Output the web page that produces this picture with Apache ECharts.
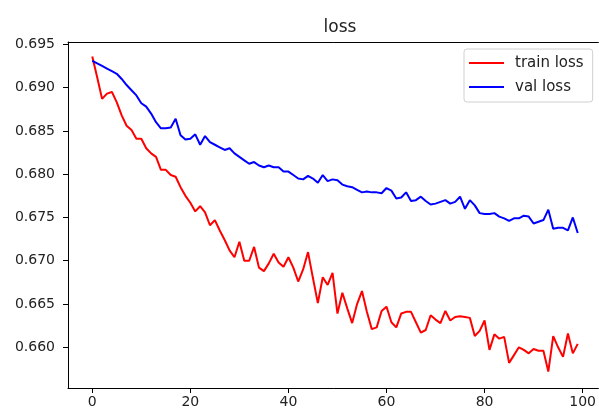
<!DOCTYPE html>
<html>
<head>
<meta charset="utf-8">
<script src="https://cdn.jsdelivr.net/npm/echarts@6/dist/echarts.min.js"></script>
<style>
  html, body { margin: 0; padding: 0; background: #fff; }
  #chart { width: 599px; height: 412px; }
</style>
</head>
<body>
<div id="chart"></div>
<script>
// epoch values
var trainLoss = [
    0.6936, 0.6912, 0.6887, 0.6893, 0.6895, 0.6883, 0.6868, 0.6856, 0.6851, 0.6841,
    0.6841, 0.6830, 0.6824, 0.6820, 0.6805, 0.6805, 0.6799, 0.6797, 0.6785, 0.6775,
    0.6767, 0.6757, 0.6763, 0.6756, 0.6741, 0.6747, 0.6735, 0.6724, 0.6712, 0.6704,
    0.6722, 0.6700, 0.6700, 0.6716, 0.6692, 0.6688, 0.6697, 0.6708, 0.6698, 0.6693,
    0.6704, 0.6692, 0.6676, 0.6690, 0.6710, 0.6680, 0.6651, 0.6681, 0.6672, 0.6686,
    0.6639, 0.6663, 0.6645, 0.6628, 0.6650, 0.6665, 0.6641, 0.6621, 0.6623, 0.6642,
    0.6647, 0.6629, 0.6623, 0.6639, 0.6641, 0.6641, 0.6629, 0.6617, 0.6620, 0.6637,
    0.6632, 0.6628, 0.6642, 0.6631, 0.6635, 0.6636, 0.6635, 0.6634, 0.6613, 0.6619,
    0.6631, 0.6597, 0.6615, 0.6610, 0.6612, 0.6582, 0.6591, 0.6600, 0.6597, 0.6593,
    0.6598, 0.6596, 0.6596, 0.6572, 0.6613, 0.6600, 0.6589, 0.6616, 0.6593, 0.6604
];
var valLoss = [
    0.6931, 0.6928, 0.6925, 0.6922, 0.6919, 0.6916, 0.6910, 0.6903, 0.6897, 0.6891,
    0.6882, 0.6878, 0.6870, 0.6860, 0.6853, 0.6853, 0.6854, 0.6864, 0.6845, 0.6840,
    0.6841, 0.6846, 0.6834, 0.6844, 0.6837, 0.6834, 0.6831, 0.6828, 0.6830, 0.6824,
    0.6820, 0.6816, 0.6812, 0.6814, 0.6810, 0.6808, 0.6810, 0.6808, 0.6808, 0.6803,
    0.6803, 0.6799, 0.6795, 0.6794, 0.6798, 0.6795, 0.6790, 0.6799, 0.6792, 0.6794,
    0.6793, 0.6788, 0.6786, 0.6785, 0.6782, 0.6779, 0.6780, 0.6779, 0.6779, 0.6778,
    0.6784, 0.6781, 0.6772, 0.6773, 0.6779, 0.6769, 0.6770, 0.6774, 0.6769, 0.6765,
    0.6766, 0.6768, 0.6770, 0.6766, 0.6768, 0.6774, 0.6760, 0.6770, 0.6764, 0.6755,
    0.6754, 0.6754, 0.6755, 0.6751, 0.6749, 0.6746, 0.6749, 0.6749, 0.6752, 0.6751,
    0.6743, 0.6745, 0.6747, 0.6759, 0.6737, 0.6738, 0.6738, 0.6735, 0.6750, 0.6732
];
var xTicks = [0, 20, 40, 60, 80, 100];
var yTicks = [0.660, 0.665, 0.670, 0.675, 0.680, 0.685, 0.690, 0.695];

function pairs(values) {
    var out = [];
    for (var i = 0; i < values.length; i++) {
        out.push([i, values[i]]);
    }
    return out;
}

var font = 'DejaVu Sans';
var myChart = echarts.init(document.getElementById('chart'), null, { renderer: 'canvas' });
var option = {
    animation: false,
    backgroundColor: '#fff',
    title: {
        text: 'loss',
        left: 335,
        textAlign: 'center',
        top: 14,
        textStyle: { fontFamily: font, fontSize: 17, fontWeight: 'normal', color: '#222' }
    },
    legend: {
        data: ['train loss', 'val loss'],
        orient: 'vertical',
        left: 464,
        top: 49,
        padding: [6, 9, 7, 4],
        itemGap: 8,
        itemWidth: 35,
        itemHeight: 14,
        itemStyle: { opacity: 0 },   // line only, no marker
        backgroundColor: 'rgba(255,255,255,0.8)',
        borderColor: '#d0d0d0',
        borderWidth: 1,
        borderRadius: 3,
        textStyle: { fontFamily: font, fontSize: 15, color: '#222', padding: [0, 0, 0, 6], lineHeight: 16 }
    },
    // the right spine falls just outside the picture, so only left/bottom/top are drawn
    grid: {
        left: 68,
        right: 0,
        top: 42,
        bottom: 24,
        containLabel: false
    },
    xAxis: [
        {
            type: 'value',
            min: -4.95,
            max: 103.2,
            splitLine: { show: false },
            axisLine: { show: true, onZero: false, lineStyle: { color: '#000', width: 1 } },
            axisTick: { show: true, length: 5, lineStyle: { color: '#000' }, customValues: xTicks },
            axisLabel: {
                margin: 7, fontFamily: font, fontSize: 14, color: '#222',
                customValues: xTicks,
                formatter: function (v) { return String(v); }
            }
        },
        {
            type: 'value',
            position: 'top',
            min: -4.95,
            max: 103.2,
            splitLine: { show: false },
            axisLine: { show: true, onZero: false, lineStyle: { color: '#000', width: 1 } },
            axisTick: { show: false },
            axisLabel: { show: false }
        }
    ],
    yAxis: {
        type: 'value',
        min: 0.6553,
        max: 0.69527,
        splitLine: { show: false },
        axisLine: { show: true, onZero: false, lineStyle: { color: '#000', width: 1 } },
        axisTick: { show: true, length: 5, lineStyle: { color: '#000' }, customValues: yTicks },
        axisLabel: {
            margin: 13, fontFamily: font, fontSize: 14, color: '#222',
            customValues: yTicks,
            formatter: function (v) { return v.toFixed(3); }
        }
    },
    series: [
        {
            name: 'train loss', type: 'line', data: pairs(trainLoss),
            symbol: 'none', color: '#ff0000',
            lineStyle: { width: 2, color: '#ff0000' }
        },
        {
            name: 'val loss', type: 'line', data: pairs(valLoss),
            symbol: 'none', color: '#0000ff',
            lineStyle: { width: 2, color: '#0000ff' }
        }
    ]
};
myChart.setOption(option);
</script>
</body>
</html>
